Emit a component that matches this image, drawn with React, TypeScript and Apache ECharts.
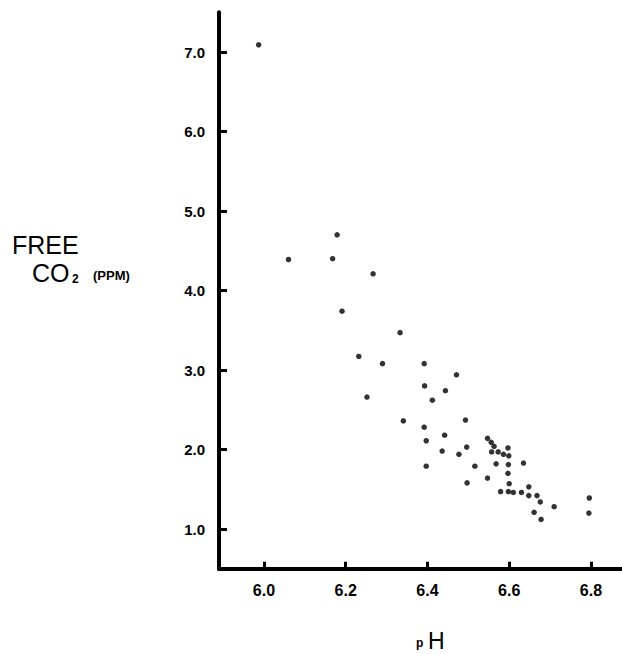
import React, { useEffect, useRef } from "react";
import * as echarts from "echarts";

const phValues = [
  5.987, 6.179, 6.06, 6.168, 6.267, 6.191, 6.333, 6.232, 6.29, 6.252,
  6.392, 6.393, 6.471, 6.444, 6.412, 6.341, 6.493, 6.392, 6.397, 6.442,
  6.436, 6.477, 6.496, 6.397, 6.516, 6.497, 6.547, 6.556, 6.563, 6.557,
  6.573, 6.586, 6.597, 6.599, 6.568, 6.598, 6.597, 6.635, 6.547, 6.6,
  6.579, 6.598, 6.61, 6.63, 6.648, 6.648, 6.668, 6.676, 6.71, 6.661,
  6.678, 6.796, 6.795,
];
const co2Values = [
  7.09, 4.7, 4.39, 4.4, 4.21, 3.74, 3.47, 3.17, 3.08, 2.66,
  3.08, 2.8, 2.94, 2.74, 2.62, 2.36, 2.37, 2.28, 2.11, 2.18,
  1.98, 1.94, 2.03, 1.79, 1.79, 1.58, 2.14, 2.09, 2.04, 1.97,
  1.97, 1.94, 2.02, 1.92, 1.82, 1.81, 1.7, 1.83, 1.64, 1.57,
  1.47, 1.47, 1.46, 1.46, 1.53, 1.42, 1.42, 1.34, 1.28, 1.21,
  1.12, 1.39, 1.2,
];
const xTicks = [6.0, 6.2, 6.4, 6.6, 6.8];
const yTicks = [1, 2, 3, 4, 5, 6, 7];

export default function App() {
  const ref = useRef<HTMLDivElement>(null);
  useEffect(() => {
    if (!ref.current) return;
    const chart = echarts.init(ref.current, null, { renderer: "svg" });
    const data = phValues.map((p, i) => [p, co2Values[i]]);
    chart.setOption({
      animation: false,
      backgroundColor: "#ffffff",
      grid: { left: 219, top: 12.25, width: 403, height: 556.5 },
      xAxis: {
        type: "value",
        min: 5.89,
        max: 6.876,
        splitLine: { show: false },
        axisLine: { show: true, lineStyle: { color: "#000", width: 4 } },
        axisTick: {
          show: true,
          inside: true,
          length: 7,
          customValues: xTicks,
          lineStyle: { color: "#000", width: 3 },
        },
        axisLabel: {
          customValues: xTicks,
          formatter: (v: number) => v.toFixed(1),
          color: "#000",
          fontFamily: "Liberation Sans",
          fontWeight: "bold",
          fontSize: 16,
          margin: 14,
        },
      },
      yAxis: {
        type: "value",
        min: 0.5,
        max: 7.5,
        splitLine: { show: false },
        axisLine: { show: true, lineStyle: { color: "#000", width: 4 } },
        axisTick: {
          show: true,
          inside: true,
          length: 8,
          customValues: yTicks,
          lineStyle: { color: "#000", width: 3 },
        },
        axisLabel: {
          customValues: yTicks,
          formatter: (v: number) => v.toFixed(1),
          color: "#000",
          fontFamily: "Liberation Sans",
          fontWeight: "bold",
          fontSize: 15,
          margin: 14,
        },
      },
      series: [
        {
          type: "scatter",
          data,
          symbol: "circle",
          symbolSize: 5.5,
          itemStyle: { color: "#000" },
        },
      ],
      graphic: [
        {
          type: "text",
          style: {
            text: "FREE",
            x: 12,
            y: 245,
            fill: "#000",
            font: "normal 25px 'Liberation Sans'",
            textVerticalAlign: "middle",
          },
        },
        {
          type: "text",
          style: {
            text: "CO",
            x: 32,
            y: 273,
            fill: "#000",
            font: "normal 25px 'Liberation Sans'",
            textVerticalAlign: "middle",
          },
        },
        {
          type: "text",
          style: {
            text: "2",
            x: 72,
            y: 279,
            fill: "#000",
            font: "bold 12px 'Liberation Sans'",
            textVerticalAlign: "middle",
          },
        },
        {
          type: "text",
          style: {
            text: "(PPM)",
            x: 93,
            y: 275,
            fill: "#000",
            font: "bold 13px 'Liberation Sans'",
            textVerticalAlign: "middle",
          },
        },
        {
          type: "text",
          style: {
            text: "p",
            x: 416,
            y: 643,
            fill: "#000",
            font: "bold 12px 'Liberation Sans'",
            textVerticalAlign: "middle",
          },
        },
        {
          type: "text",
          style: {
            text: "H",
            x: 428,
            y: 641,
            fill: "#000",
            font: "normal 23px 'Liberation Sans'",
            textVerticalAlign: "middle",
          },
        },
      ],
    });
    return () => chart.dispose();
  }, []);
  return (
    <div
      ref={ref}
      style={{ position: "fixed", left: 0, top: 0, width: 622, height: 654 }}
    />
  );
}
